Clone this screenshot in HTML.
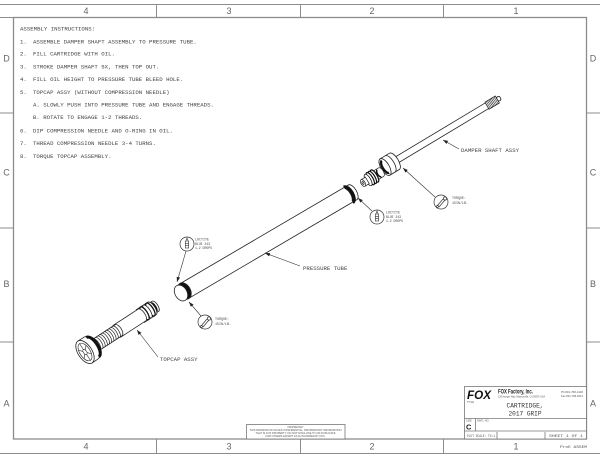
<!DOCTYPE html>
<html><head><meta charset="utf-8"><style>
html,body{margin:0;padding:0;background:#fff;}
svg{display:block;}
</style></head><body>
<svg width="600" height="463" viewBox="0 0 600 463" xmlns="http://www.w3.org/2000/svg">
<defs>
<marker id="ar" viewBox="0 0 10 10" refX="10" refY="5" markerWidth="5" markerHeight="5" markerUnits="userSpaceOnUse" orient="auto"><path d="M0,1.5 L10,5 L0,8.5 Z" fill="#222"/></marker>
</defs>
<rect width="600" height="463" fill="#fff"/>

<!-- frame -->
<g stroke="#8c8c8c" stroke-width="1" fill="none">
 <line x1="0" y1="4.5" x2="600" y2="4.5"/>
 <line x1="0" y1="17.5" x2="586" y2="17.5"/>
 <line x1="0" y1="453.5" x2="600" y2="453.5"/>
 <rect x="13.5" y="17.5" width="573" height="421.5" stroke-width="1.3"/>
 <line x1="156.5" y1="4.5" x2="156.5" y2="17.5"/>
 <line x1="300.5" y1="4.5" x2="300.5" y2="17.5"/>
 <line x1="443.5" y1="4.5" x2="443.5" y2="17.5"/>
 <line x1="156.5" y1="439" x2="156.5" y2="453.5"/>
 <line x1="300.5" y1="439" x2="300.5" y2="453.5"/>
 <line x1="443.5" y1="439" x2="443.5" y2="453.5"/>
 <line x1="0" y1="113" x2="13.5" y2="113"/>
 <line x1="0" y1="228" x2="13.5" y2="228"/>
 <line x1="0" y1="342" x2="13.5" y2="342"/>
 <line x1="586" y1="113" x2="600" y2="113"/>
 <line x1="586" y1="228" x2="600" y2="228"/>
 <line x1="586" y1="342" x2="600" y2="342"/>
</g>
<g font-family="Liberation Sans, sans-serif" font-size="9" fill="#666" text-anchor="middle">
 <text x="86" y="14">4</text><text x="229" y="14">3</text><text x="372" y="14">2</text><text x="516" y="14">1</text>
 <text x="86" y="449.5">4</text><text x="229" y="449.5">3</text><text x="372" y="449.5">2</text><text x="516" y="449.5">1</text>
 <text x="6.5" y="61.5">D</text><text x="6.5" y="175.5">C</text><text x="6.5" y="287">B</text><text x="6.5" y="406.5">A</text>
 <text x="593" y="61.5">D</text><text x="593" y="175.5">C</text><text x="593" y="287">B</text><text x="593" y="406.5">A</text>
</g>

<!-- instructions -->
<g font-family="Liberation Mono, monospace" font-size="5.7" fill="#444">
 <text x="20" y="30.3">ASSEMBLY INSTRUCTIONS:</text>
 <text x="20" y="43.5">1.</text><text x="33" y="43.5">ASSEMBLE DAMPER SHAFT ASSEMBLY TO PRESSURE TUBE.</text>
 <text x="20" y="55.5">2.</text><text x="33" y="55.5">FILL CARTRIDGE WITH OIL.</text>
 <text x="20" y="68.3">3.</text><text x="33" y="68.3">STROKE DAMPER SHAFT 5X, THEN TOP OUT.</text>
 <text x="20" y="81.1">4.</text><text x="33" y="81.1">FILL OIL HEIGHT TO PRESSURE TUBE BLEED HOLE.</text>
 <text x="20" y="93.8">5.</text><text x="33" y="93.8">TOPCAP ASSY (WITHOUT COMPRESSION NEEDLE)</text>
 <text x="33" y="106.5">A. SLOWLY PUSH INTO PRESSURE TUBE AND ENGAGE THREADS.</text>
 <text x="33" y="119.2">B. ROTATE TO ENGAGE 1-2 THREADS.</text>
 <text x="20" y="132.5">6.</text><text x="33" y="132.5">DIP COMPRESSION NEEDLE AND O-RING IN OIL.</text>
 <text x="20" y="145.2">7.</text><text x="33" y="145.2">THREAD COMPRESSION NEEDLE 3-4 TURNS.</text>
 <text x="20" y="157.8">8.</text><text x="33" y="157.8">TORQUE TOPCAP ASSEMBLY.</text>
</g>

<!-- pressure tube -->
<g transform="translate(181,293) rotate(-30.4)" stroke="#222" stroke-width="0.8">
 <path d="M3,-8.5 L199,-8.5 A4,8.5 0 0 1 199,8.5 L3,8.5 Z" fill="#fff"/>
 <path d="M194,-8.5 A4,8.5 0 0 1 194,8.5" stroke="#111" stroke-width="4" fill="none"/>
 <ellipse cx="4" cy="0" rx="6" ry="8.8" fill="#111"/>
 <ellipse cx="0" cy="0" rx="6" ry="8.5" fill="#fff"/>
</g>

<!-- damper shaft assy -->
<g transform="translate(385,167) rotate(-31)" stroke="#222" stroke-width="0.8">
 <path d="M10,-3.3 L120,-3.3 L120,3.3 L10,3.3 Z" fill="#fff"/>
 <path d="M119,-4 L131,-4 L131,4 L119,4 Z" fill="#fff"/>
 <g stroke-width="0.6">
  <line x1="120.5" y1="-4" x2="120.5" y2="4"/><line x1="122" y1="-4" x2="122" y2="4"/>
  <line x1="123.5" y1="-4" x2="123.5" y2="4"/><line x1="125" y1="-4" x2="125" y2="4"/>
  <line x1="126.5" y1="-4" x2="126.5" y2="4"/><line x1="128" y1="-4" x2="128" y2="4"/>
  <line x1="129.5" y1="-4" x2="129.5" y2="4"/>
 </g>
 <rect x="131" y="-2.3" width="3.5" height="4.6" rx="1.6" fill="#fff"/>
 <path d="M0,-9.5 L11,-9.5 A4,9.5 0 0 1 11,9.5 L0,9.5 Z" fill="#fff"/>
 <path d="M6,-9.5 A4,9.5 0 0 1 6,9.5" fill="none"/>
 <ellipse cx="0" cy="0" rx="4.2" ry="9.5" fill="#fff"/>
 <path d="M0.5,-7 A3,7 0 0 0 0.5,7" stroke="#111" stroke-width="2.4" fill="none"/>
</g>

<!-- compression valve -->
<g transform="translate(363,183) rotate(-31)" stroke="#222" stroke-width="0.7">
 <path d="M15,-5 L21,-5 A2.5,5 0 0 1 21,5 L15,5 Z" fill="#fff"/>
 <path d="M19,-4 A2,4 0 0 0 19,4" stroke="#111" stroke-width="1.6" fill="none"/>
 <ellipse cx="13.5" cy="0" rx="2.5" ry="7" fill="#fff" stroke="#111" stroke-width="1.2"/>
 <ellipse cx="11" cy="0" rx="2.5" ry="7" fill="#fff" stroke="#111" stroke-width="1.2"/>
 <ellipse cx="8.5" cy="0" rx="2.5" ry="7" fill="#fff" stroke="#111" stroke-width="1.2"/>
 <ellipse cx="6" cy="0" rx="2.5" ry="6.5" fill="#fff" stroke="#222" stroke-width="0.8"/>
 <path d="M0,-3.8 L5,-3.8 L5,3.8 L0,3.8 Z" fill="#fff"/>
 <ellipse cx="0" cy="0" rx="2" ry="3.8" fill="#fff"/>
 <ellipse cx="0" cy="0" rx="0.8" ry="1.6" fill="none"/>
</g>

<!-- topcap assy -->
<g transform="translate(85,352) rotate(-33)" stroke="#222" stroke-width="0.8">
 <path d="M80,-6 L84,-6 A2.5,6 0 0 1 84,6 L80,6 Z" fill="#fff"/>
 <path d="M82,-5 A2,5 0 0 1 82,5" stroke="#111" stroke-width="1.5" fill="none"/>
 <path d="M66,-7.5 L80,-7.5 A3,7.5 0 0 1 80,7.5 L66,7.5 Z" fill="#fff"/>
 <ellipse cx="78" cy="0" rx="2.8" ry="7.5" fill="#fff" stroke="#111" stroke-width="1.3"/>
 <ellipse cx="74.5" cy="0" rx="2.8" ry="7.5" fill="#fff"/>
 <ellipse cx="71" cy="0" rx="2.8" ry="7.5" fill="#fff" stroke="#111" stroke-width="1.3"/>
 <path d="M38,-7 L68,-7 A3,7 0 0 1 68,7 L38,7 Z" fill="#fff"/>
 <path d="M11,-6.5 L40,-6.5 A3,6.5 0 0 1 40,6.5 L11,6.5 Z" fill="#fff"/>
 <g fill="none" stroke-width="0.7">
  <path d="M14,-6.5 A2.5,6.5 0 0 1 14,6.5"/><path d="M16.6,-6.5 A2.5,6.5 0 0 1 16.6,6.5"/>
  <path d="M19.2,-6.5 A2.5,6.5 0 0 1 19.2,6.5"/><path d="M21.8,-6.5 A2.5,6.5 0 0 1 21.8,6.5"/>
  <path d="M24.4,-6.5 A2.5,6.5 0 0 1 24.4,6.5"/><path d="M27,-6.5 A2.5,6.5 0 0 1 27,6.5"/>
  <path d="M29.6,-6.5 A2.5,6.5 0 0 1 29.6,6.5"/><path d="M32.2,-6.5 A2.5,6.5 0 0 1 32.2,6.5"/>
  <path d="M34.8,-6.5 A2.5,6.5 0 0 1 34.8,6.5"/><path d="M37.4,-6.5 A2.5,6.5 0 0 1 37.4,6.5"/>
 </g>
 <path d="M0,-13 L7,-13 A6,13 0 0 1 7,13 L0,13 Z" fill="#fff"/>
 <path d="M9,-11.5 A5.5,11.5 0 0 1 9,11.5" stroke="#111" stroke-width="3" fill="none"/>
 <ellipse cx="0" cy="0" rx="7" ry="13" fill="#fff"/>
 <ellipse cx="0" cy="0" rx="5.2" ry="10" fill="none" stroke-width="0.6"/>
 <g stroke-width="0.6">
  <line x1="0" y1="-3" x2="0" y2="-10"/><line x1="0" y1="3" x2="0" y2="10"/>
  <line x1="1.3" y1="-1.5" x2="4.5" y2="-5"/><line x1="-1.3" y1="1.5" x2="-4.5" y2="5"/>
  <line x1="1.3" y1="1.5" x2="4.5" y2="5"/><line x1="-1.3" y1="-1.5" x2="-4.5" y2="-5"/>
 </g>
 <ellipse cx="0" cy="0" rx="1.6" ry="3" fill="#fff" stroke-width="0.6"/>
</g>

<!-- leaders -->
<g stroke="#333" stroke-width="0.6" fill="none" marker-end="url(#ar)">
 <line x1="459" y1="149" x2="443" y2="140"/>
 <line x1="435" y1="197" x2="403" y2="168"/>
 <line x1="372" y1="211" x2="358" y2="198"/>
 <line x1="300" y1="266" x2="265" y2="253"/>
 <line x1="186" y1="251" x2="177" y2="282"/>
 <line x1="201" y1="316" x2="189" y2="302"/>
 <line x1="158" y1="357" x2="137" y2="330"/>
</g>

<!-- callout circles -->
<g stroke="#333" stroke-width="0.7" fill="#fff">
 <circle cx="441" cy="202" r="7"/>
 <circle cx="377" cy="217" r="7"/>
 <circle cx="187" cy="244" r="7"/>
 <circle cx="205" cy="322" r="7"/>
</g>
<!-- torque icons -->
<g stroke="#333" stroke-width="0.7" fill="none">
 <path d="M437,206 L443,199 M439,207 L445,200"/><circle cx="445" cy="198.5" r="1.6"/><circle cx="437.5" cy="206.5" r="1"/>
 <path d="M201,326 L207,319 M203,327 L209,320"/><circle cx="209" cy="318.5" r="1.6"/><circle cx="201.5" cy="326.5" r="1"/>
</g>
<!-- loctite icons -->
<g stroke="#333" stroke-width="0.6" fill="#fff">
 <rect x="375.3" y="214" width="3.4" height="7"/><path d="M376,214 L377,211 L378,214" /><line x1="375.3" y1="216.5" x2="378.7" y2="216.5"/><line x1="375.3" y1="218.5" x2="378.7" y2="218.5"/>
 <rect x="185.3" y="241" width="3.4" height="7"/><path d="M186,241 L187,238 L188,241"/><line x1="185.3" y1="243.5" x2="188.7" y2="243.5"/><line x1="185.3" y1="245.5" x2="188.7" y2="245.5"/>
</g>

<!-- labels -->
<g font-family="Liberation Mono, monospace" font-size="5.7" fill="#444">
 <text x="461" y="152">DAMPER SHAFT ASSY</text>
 <text x="303" y="270">PRESSURE TUBE</text>
 <text x="160" y="361">TOPCAP ASSY</text>
</g>
<g font-family="Liberation Mono, monospace" font-size="3.6" fill="#444">
 <text x="452" y="199" textLength="14" lengthAdjust="spacingAndGlyphs">TORQUE:</text>
 <text x="452" y="204" textLength="16" lengthAdjust="spacingAndGlyphs">15IN/LB.</text>
 <text x="386" y="213.5" textLength="14" lengthAdjust="spacingAndGlyphs">LOCTITE</text>
 <text x="386" y="217.8" textLength="15" lengthAdjust="spacingAndGlyphs">BLUE 243</text>
 <text x="386" y="222" textLength="17" lengthAdjust="spacingAndGlyphs">1-2 DROPS</text>
 <text x="195" y="240.5" textLength="14" lengthAdjust="spacingAndGlyphs">LOCTITE</text>
 <text x="195" y="244.8" textLength="15" lengthAdjust="spacingAndGlyphs">BLUE 243</text>
 <text x="195" y="249" textLength="17" lengthAdjust="spacingAndGlyphs">1-2 DROPS</text>
 <text x="215" y="320" textLength="14" lengthAdjust="spacingAndGlyphs">TORQUE:</text>
 <text x="215" y="325" textLength="16" lengthAdjust="spacingAndGlyphs">15IN/LB.</text>
</g>

<!-- confidential box -->
<rect x="246.5" y="424.5" width="98.5" height="14.5" fill="#fff" stroke="#777" stroke-width="0.8"/>
<g font-family="Liberation Sans, sans-serif" font-size="2.7" fill="#555" text-anchor="middle">
 <text x="295.5" y="428" textLength="16" lengthAdjust="spacingAndGlyphs">PROPRIETARY</text>
 <text x="295.5" y="431" textLength="92" lengthAdjust="spacingAndGlyphs">THIS DRAWING INVOLVES CONFIDENTIAL, PROPRIETARY INFORMATION</text>
 <text x="295.5" y="434" textLength="80" lengthAdjust="spacingAndGlyphs">THAT IS FOX PROPERTY. DO NOT DISCLOSE TO OR DUPLICATE</text>
 <text x="295.5" y="437" textLength="60" lengthAdjust="spacingAndGlyphs">FOR OTHERS EXCEPT AS AUTHORIZED BY FOX.</text>
</g>

<!-- title block -->
<g stroke="#777" stroke-width="0.8" fill="none">
 <rect x="464.5" y="386.5" width="122" height="52.5" fill="#fff"/>
 <line x1="464.5" y1="418.5" x2="586.5" y2="418.5"/>
 <line x1="464.5" y1="431" x2="586.5" y2="431"/>
 <line x1="475.5" y1="418.5" x2="475.5" y2="431"/>
 <line x1="497" y1="432" x2="497" y2="439"/>
 <line x1="545" y1="432" x2="545" y2="439"/>
</g>
<text x="467" y="399" font-family="Liberation Sans, sans-serif" font-weight="bold" font-style="italic" font-size="12" fill="#111" textLength="24" lengthAdjust="spacingAndGlyphs">FOX</text>
<text x="498" y="393.5" font-family="Liberation Sans, sans-serif" font-weight="bold" font-size="6.2" fill="#222" textLength="35" lengthAdjust="spacingAndGlyphs">FOX Factory, Inc.</text>
<g font-family="Liberation Sans, sans-serif" font-size="2.6" fill="#555">
 <text x="498" y="397.5" textLength="47" lengthAdjust="spacingAndGlyphs">130 Hangar Way, Watsonville, CA 95076 USA</text>
 <text x="561" y="393" textLength="22" lengthAdjust="spacingAndGlyphs">Ph 831-768-1100</text>
 <text x="561" y="397" textLength="22" lengthAdjust="spacingAndGlyphs">Fax 831-768-9312</text>
 <text x="467" y="403">TITLE</text>
 <text x="466" y="421.5">SIZE</text>
 <text x="477" y="421.5">DWG. NO.</text>
</g>
<g font-family="Liberation Mono, monospace" font-size="6.8" fill="#333" text-anchor="middle">
 <text x="525" y="407.5" textLength="37" lengthAdjust="spacingAndGlyphs">CARTRIDGE,</text>
 <text x="525" y="415.5" textLength="33" lengthAdjust="spacingAndGlyphs">2017 GRIP</text>
</g>
<text x="466" y="429.5" font-family="Liberation Sans, sans-serif" font-weight="bold" font-size="7.5" fill="#222">C</text>
<g font-family="Liberation Mono, monospace" font-size="3.4" fill="#555">
 <text x="467" y="437" textLength="28" lengthAdjust="spacingAndGlyphs">PLOT SCALE: TS:1</text>
 <text x="549" y="437" textLength="34" lengthAdjust="spacingAndGlyphs">SHEET 1 OF 1</text>
 <text x="560" y="448" textLength="27" lengthAdjust="spacingAndGlyphs">ProE ASSEM</text>
</g>
</svg>
</body></html>
